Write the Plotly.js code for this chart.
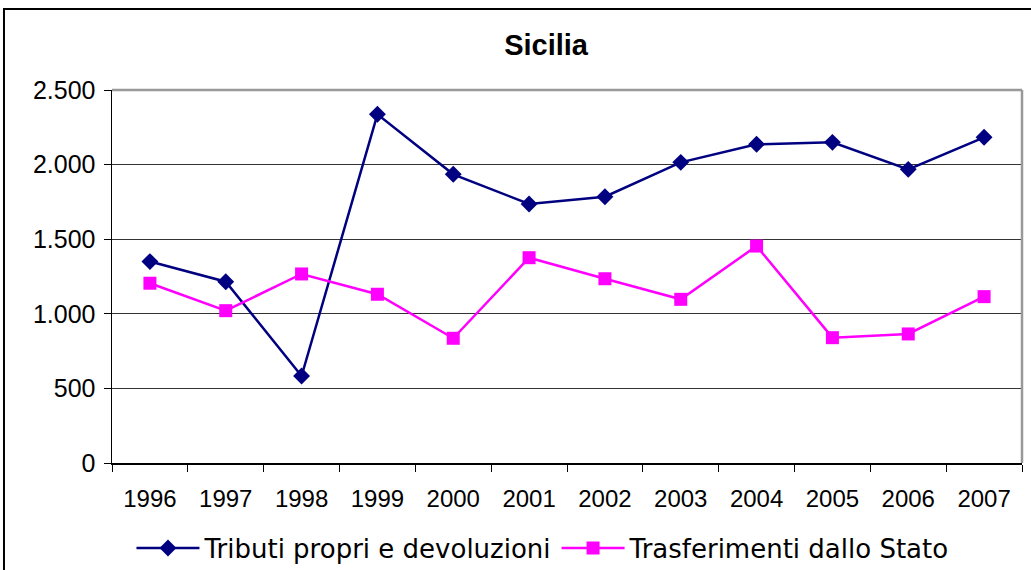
<!DOCTYPE html>
<html>
<head>
<meta charset="utf-8">
<script src="https://cdn.plot.ly/plotly-3.0.1.min.js"></script>
<style>
html,body{margin:0;padding:0;background:#fff;}
#chart{width:1031px;height:570px;}
</style>
</head>
<body>
<div id="chart"></div>
<script>
const years = ["1996","1997","1998","1999","2000","2001","2002","2003","2004","2005","2006","2007"];
const tributi = [1350, 1215, 583, 2337, 1935, 1736, 1785, 2015, 2136, 2149, 1968, 2183];
const trasferimenti = [1205, 1021, 1267, 1131, 836, 1376, 1235, 1097, 1454, 840, 865, 1115];
const seriesNames = ["Tributi propri e devoluzioni", "Trasferimenti dallo Stato"];
const yTicks = [0, 500, 1000, 1500, 2000, 2500];

const traces = [
  {
    x: years, y: tributi, name: seriesNames[0], type: 'scatter', mode: 'lines+markers',
    line: {color: '#000080', width: 2.5},
    marker: {symbol: 'diamond', size: 13, color: '#000080'}
  },
  {
    x: years, y: trasferimenti, name: seriesNames[1], type: 'scatter', mode: 'lines+markers',
    line: {color: '#FF00FF', width: 2.5},
    marker: {symbol: 'square', size: 13, color: '#FF00FF'}
  }
];

const layout = {
  width: 1031, height: 570,
  margin: {l: 112, r: 9, t: 90, b: 107, autoexpand: false},
  paper_bgcolor: '#ffffff', plot_bgcolor: '#ffffff',
  separators: ',.',
  font: {family: 'Liberation Sans, Arial, sans-serif', size: 24, color: '#000'},
  title: {
    text: '<b>Sicilia</b>',
    font: {family: 'Liberation Sans, Arial, sans-serif', size: 29, color: '#000'},
    x: 0.477, xref: 'paper', xanchor: 'center',
    y: 1.126, yref: 'paper', yanchor: 'middle'
  },
  showlegend: true,
  legend: {
    orientation: 'h', x: 0.4736, xanchor: 'center', y: -0.228, yanchor: 'middle',
    font: {family: 'DejaVu Sans, Verdana, sans-serif', size: 26, color: '#000'},
    itemwidth: 63, bgcolor: 'rgba(0,0,0,0)', traceorder: 'normal'
  },
  xaxis: {
    type: 'category', range: [-0.5, 11.5], fixedrange: true,
    showline: true, linecolor: '#000', linewidth: 1.5,
    ticks: 'outside', tickson: 'boundaries', ticklen: 7, tickcolor: '#000', tickwidth: 1,
    showgrid: false, zeroline: false, ticklabelstandoff: 14,
    tickfont: {family: 'Liberation Sans, Arial, sans-serif', size: 24, color: '#000'}
  },
  yaxis: {
    range: [0, 2500], tickvals: yTicks, tickformat: ',d', fixedrange: true,
    showline: true, linecolor: '#000', linewidth: 1.5,
    ticks: 'outside', ticklen: 7, tickcolor: '#000', tickwidth: 1,
    showgrid: true, gridcolor: '#333', gridwidth: 1, zeroline: false,
    ticklabelstandoff: 3,
    tickfont: {family: 'Liberation Sans, Arial, sans-serif', size: 25, color: '#000'}
  },
  shapes: [
    {type: 'line', xref: 'paper', yref: 'paper', x0: 0, x1: 1, y0: 1, y1: 1,
     line: {color: '#999', width: 2.5}, layer: 'above'},
    {type: 'line', xref: 'paper', yref: 'paper', x0: 1, x1: 1, y0: 0, y1: 1,
     line: {color: '#999', width: 2.5}, layer: 'above'},
    {type: 'rect', xref: 'paper', yref: 'paper', x0: -0.1187, x1: 1.02, y0: -0.3137, y1: 1.2172,
     line: {color: '#000', width: 2}, fillcolor: 'rgba(0,0,0,0)', layer: 'below'}
  ]
};

Plotly.newPlot('chart', traces, layout, {displayModeBar: false, staticPlot: true});
</script>
</body>
</html>
